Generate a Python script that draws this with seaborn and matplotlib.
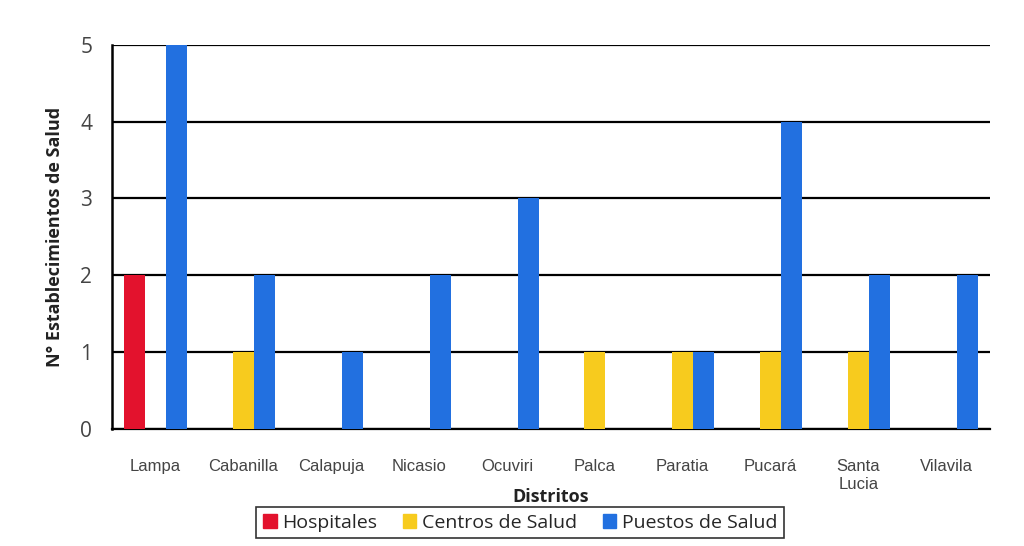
import matplotlib
matplotlib.use("Agg")
import matplotlib.pyplot as plt
import seaborn as sns
import pandas as pd
from matplotlib.patches import Patch

distritos = ["Lampa", "Cabanilla", "Calapuja", "Nicasio", "Ocuviri",
             "Palca", "Paratia", "Pucará", "Santa\nLucia", "Vilavila"]
hospitales = [2, 0, 0, 0, 0, 0, 0, 0, 0, 0]
centros = [0, 1, 0, 0, 0, 1, 1, 1, 1, 0]
puestos = [5, 2, 1, 2, 3, 0, 1, 4, 2, 2]
series = ["Hospitales", "Centros de Salud", "Puestos de Salud"]
colores = ["#E3122D", "#F7CB1E", "#2270E0"]

df = pd.DataFrame({
    "Distrito": distritos * 3,
    "Tipo": [series[0]] * 10 + [series[1]] * 10 + [series[2]] * 10,
    "N": hospitales + centros + puestos,
})

sns.set_theme(style="white")
plt.rcParams["font.family"] = ["Liberation Sans", "DejaVu Sans"]

fig = plt.figure(figsize=(10.24, 5.46), dpi=100)
ax = fig.add_axes([0.109, 0.215, 0.858, 0.703])

sns.barplot(data=df, x="Distrito", y="N", hue="Tipo", palette=colores,
            saturation=1, width=0.72, gap=0.0, ax=ax, legend=False,
            edgecolor="none", linewidth=0, zorder=3)

ax.set_ylim(0, 5.0)
ax.set_xlim(-0.5, len(distritos) - 0.5)
ax.set_yticks(range(6))
ax.yaxis.grid(True, color="black", linewidth=1.6, zorder=0)
ax.set_axisbelow(True)
for s in ["top", "right"]:
    ax.spines[s].set_visible(False)
ax.spines["left"].set_color("black")
ax.spines["left"].set_linewidth(1.8)
ax.spines["bottom"].set_color("black")
ax.spines["bottom"].set_linewidth(1.6)

ax.tick_params(axis="y", labelsize=15, colors="#444444", pad=14, length=0)
ax.tick_params(axis="x", labelsize=12, colors="#444444", pad=22, length=0)
for lbl in ax.get_yticklabels():
    lbl.set_family(["Open Sans", "DejaVu Sans"])
for lbl in ax.get_xticklabels():
    lbl.set_verticalalignment("top")

ax.set_ylabel("N° Establecimientos de Salud", fontsize=13, fontweight="bold",
              color="#222222", labelpad=12, family=["Open Sans", "DejaVu Sans"])
ax.set_xlabel("Distritos", fontsize=13, fontweight="bold", color="#222222",
              labelpad=8, family=["Open Sans", "DejaVu Sans"])
ax.xaxis.set_label_coords(0.5, -0.155)

handles = [Patch(facecolor=c, edgecolor=c) for c in colores]
leg = fig.legend(handles, series, loc="center", bbox_to_anchor=(0.508, 0.043),
                 ncol=3, frameon=True, fancybox=False,
                 handlelength=0.7, handleheight=0.7, handletextpad=0.3,
                 columnspacing=1.3, borderpad=0.35,
                 prop={"family": ["Open Sans", "DejaVu Sans"], "size": 14})
leg.get_frame().set_edgecolor("black")
leg.get_frame().set_linewidth(1.2)

fig.savefig("out.png", dpi=100, facecolor="white")
